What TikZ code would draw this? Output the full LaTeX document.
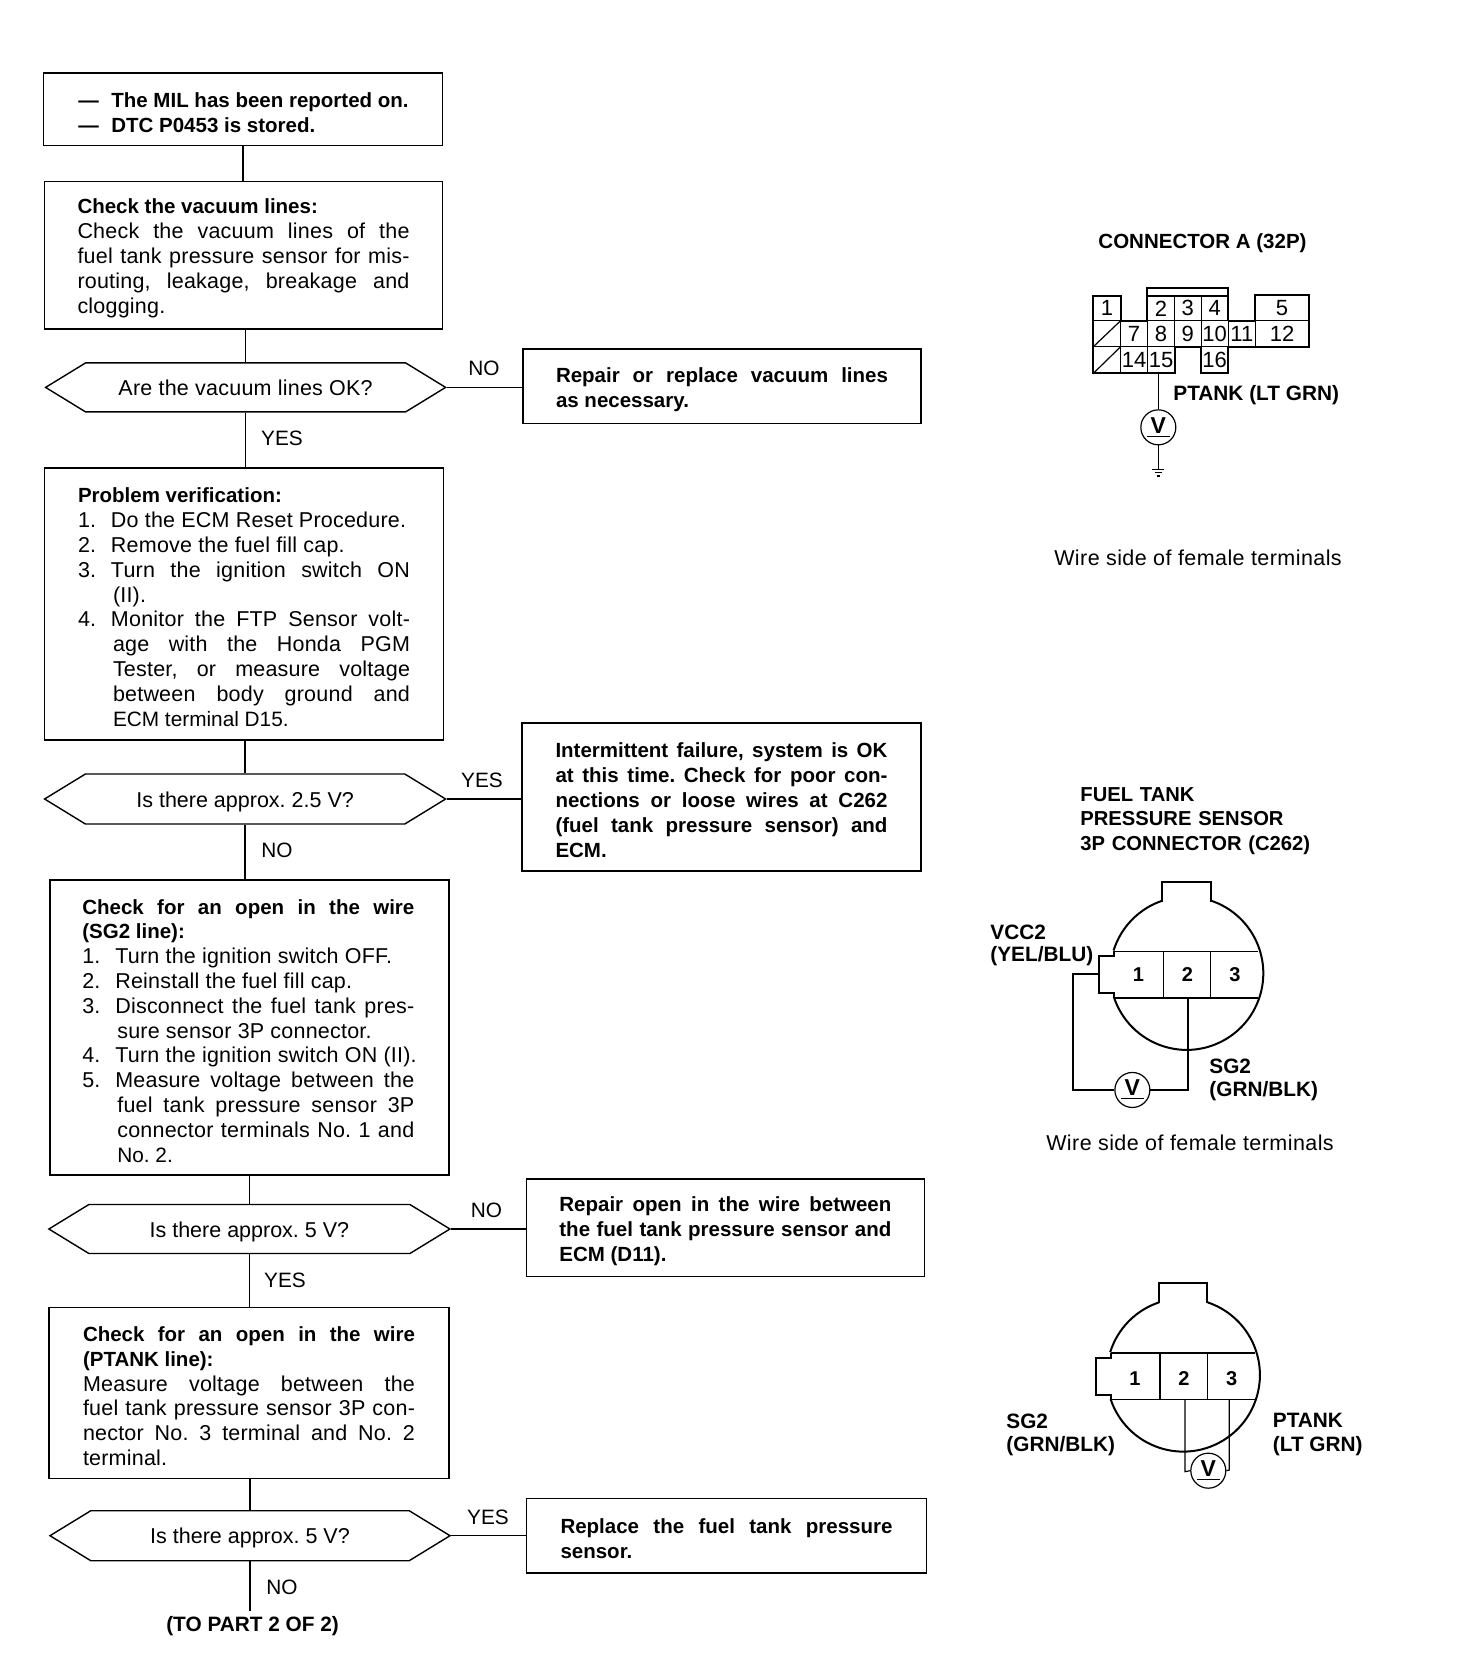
\documentclass[tikz,border=0pt]{standalone}
\usepackage{fontspec}
\setmainfont{Liberation Sans}
\usetikzlibrary{shapes.symbols}
\AtBeginDocument{\frenchspacing}
\newcommand\mainsize{\fontsize{10.4pt}{12.4pt}\selectfont}
\newcommand\bodyfont{\fontsize{10.75pt}{12.4pt}\selectfont\addfontfeature{LetterSpace=1}}
\newcommand\bs{\normalfont\fontsize{10.25pt}{12.4pt}\selectfont\bfseries}
\newcommand\nr{\normalfont\fontsize{10.4pt}{12.4pt}\selectfont}
\newcommand\tb[1]{\vbox{\hsize=166pt\baselineskip=12.4pt\lineskiplimit=-10pt\kern3.2pt #1}}
\newcommand\Lj[1]{\hbox to \hsize{#1}}
\newcommand\Ll[1]{\hbox{#1}}
\newcommand\Nl[2]{\hbox{\hbox to 16.5pt{#1\hss}#2}}
\newcommand\Nj[2]{\hbox to \hsize{\hbox to 16.5pt{#1\hss}#2}}
\newcommand\Cl[1]{\hbox{\kern17.5pt #1}}
\newcommand\Cj[1]{\hbox to \hsize{\kern17.5pt #1}}
\newcommand\dt[1]{\vbox{\kern2.5pt\hbox{#1}}}
\newcommand\cellbox[6]{\node[cellnode,minimum width={(#4-#2)*0.16667pt},minimum height={(#5-#3)*0.16667pt}] (#1) at ({(#2+#4)/2},{(#3+#5)/2}) {#6};}
\tikzset{
  boxsize/.style 2 args={minimum width=#1*0.5pt,minimum height=#2*0.5pt},
  flowbox/.style={draw,line width=0.7pt,inner sep=0pt,font=\bodyfont},
  decision/.style={draw,line width=0.7pt,shape=signal,signal to=west and east,signal pointer angle=63,inner sep=0pt,font=\fontsize{10.75pt}{12.4pt}\selectfont},
  flowline/.style={line width=0.7pt},
  lab/.style={inner sep=0pt,font=\mainsize},
  wirelab/.style={inner sep=0pt,font=\fontsize{10.75pt}{12.4pt}\selectfont\addfontfeature{LetterSpace=2}},
  blab/.style={inner sep=0pt,font=\mainsize\bfseries},
  blabl/.style={inner sep=0pt,anchor=west,font=\mainsize\bfseries,align=left},
  cellnode/.style={draw,line width=0.4pt,inner sep=0pt,font=\fontsize{11pt}{12pt}\selectfont},
  thickline/.style={line width=1pt},
  thinline/.style={line width=0.6pt},
  voltm/.style={draw,circle,line width=0.6pt,minimum size=17.5pt,inner sep=0pt,font=\fontsize{11.5pt}{12pt}\selectfont\bfseries},
  numb/.style={inner sep=0pt,font=\fontsize{10pt}{12pt}\selectfont\bfseries},
  pics/sensorbody/.style={code={
    \draw[thickline] (-73,-215) -- (-73,-275) -- (72,-275) -- (72,-215);
    \draw[thickline] (0,0) ++(71.5:38.3pt) arc[start angle=71.5,end angle=-161.7,radius=38.3pt];
    \draw[thickline] (0,0) ++(162.7:38.3pt) arc[start angle=162.7,end angle=108.5,radius=38.3pt];
    \draw[thickline] (-218,-66) -- (-218,-52) -- (-262,-52) -- (-262,60) -- (-218,60) -- (-218,74);
    \draw[thinline] (-218,-66) -- (215,-66);
    \draw[thinline] (-218,74) -- (215,74);
    \draw[thinline] (-70,-66) -- (-70,74);
    \draw[thinline] (72,-66) -- (72,74);
  }}
}
\begin{document}
\begin{tikzpicture}[x=0.5pt,y=-0.5pt]
\fill[white] (0,0) rectangle (1472,1664);
\useasboundingbox (0,0) rectangle (1472,1664);
% ---------- flow boxes ----------
\node[flowbox,boxsize={399}{72.5}] (b1) at (243,109.2) {\tb{
  \Nl{\kern0.5pt\bs ---}{\kern0.5pt\bs The MIL has been reported on.}
  \Nl{\kern0.5pt\bs ---}{\kern0.5pt\bs DTC P0453 is stored.}}};
\node[flowbox,boxsize={398}{147.5}] (b2) at (243.5,255.2) {\tb{
  \Ll{\bs Check the vacuum lines:}
  \Lj{Check the vacuum lines of the}
  \Lj{fuel tank pressure sensor for mis-}
  \Lj{routing, leakage, breakage and}
  \Ll{clogging.}}};
\node[decision,boxsize={400}{49}] (d1) at (245.6,387.4) {\addfontfeature{LetterSpace=1.1}Are the vacuum lines OK?};
\node[flowbox,boxsize={398}{74.5}] (r1) at (722,386.2) {\tb{
  \Lj{\bs Repair or replace vacuum lines}
  \Ll{\bs as necessary.}}};
\node[flowbox,boxsize={399}{272}] (b3) at (244,604) {\tb{
  \Ll{\bs Problem verification:}
  \Nl{1.}{Do the ECM Reset Procedure.}
  \Nl{2.}{Remove the fuel fill cap.}
  \Nj{3.}{Turn the ignition switch ON}
  \Cl{(II).}
  \Nj{4.}{Monitor the FTP Sensor volt-}
  \Cj{age with the Honda PGM}
  \Cj{Tester, or measure voltage}
  \Cj{between body ground and}
  \Cl{\nr ECM terminal D15.}}};
\node[decision,boxsize={401}{50}] (d2) at (245.1,799) {\dt{Is there approx. 2.5 V?}};
\node[flowbox,boxsize={399}{148}] (r2) at (721.5,797) {\tb{
  \Lj{\bs Intermittent failure, system is OK}
  \Lj{\bs at this time. Check for poor con-}
  \Lj{\bs nections or loose wires at C262}
  \Lj{\bs (fuel tank pressure sensor) and}
  \Ll{\bs ECM.}}};
\node[flowbox,boxsize={399}{295}] (b4) at (249.5,1027.5) {\tb{
  \Lj{\bs Check for an open in the wire}
  \Ll{\bs (SG2 line):}
  \Nl{1.}{Turn the ignition switch OFF.}
  \Nl{2.}{Reinstall the fuel fill cap.}
  \Nj{3.}{Disconnect the fuel tank pres-}
  \Cl{sure sensor 3P connector.}
  \Nl{4.}{Turn the ignition switch ON (II).}
  \Nj{5.}{Measure voltage between the}
  \Cj{fuel tank pressure sensor 3P}
  \Cj{connector terminals No. 1 and}
  \Cl{\nr No. 2.}}};
\node[decision,boxsize={401}{49}] (d3) at (249.4,1229) {\dt{Is there approx. 5 V?}};
\node[flowbox,boxsize={398}{97.7}] (r3) at (725.4,1227.8) {\tb{
  \Lj{\bs Repair open in the wire between}
  \Lj{\bs the fuel tank pressure sensor and}
  \Ll{\bs ECM (D11).}}};
\node[flowbox,boxsize={400}{171}] (b5) at (249,1393) {\tb{
  \Lj{\bs Check for an open in the wire}
  \Ll{\bs (PTANK line):}
  \Lj{Measure voltage between the}
  \Lj{fuel tank pressure sensor 3P con-}
  \Lj{nector No. 3 terminal and No. 2}
  \Ll{terminal.}}};
\node[decision,boxsize={400}{50}] (d4) at (250,1535.7) {\dt{Is there approx. 5 V?}};
\node[flowbox,boxsize={400}{74.3}] (r4) at (726.5,1535.7) {\tb{
  \Lj{\bs Replace the fuel tank pressure}
  \Ll{\bs sensor.}}};
\coordinate (end) at (250,1611);
\node[blab] (topart) at (252.6,1626) {(TO PART 2 OF 2)};
% ---------- connectors ----------
\draw[flowline] (b1.south) -- (b1.south |- b2.north);
\draw[flowline] (d1.north |- b2.south) -- (d1.north);
\draw[flowline] (d1.south) -- (d1.south |- b3.north);
\draw[flowline] (d2.north |- b3.south) -- (d2.north);
\draw[flowline] (d2.south) -- (d2.south |- b4.north);
\draw[flowline] (d3.north |- b4.south) -- (d3.north);
\draw[flowline] (d3.south) -- (d3.south |- b5.north);
\draw[flowline] (d4.north |- b5.south) -- (d4.north);
\draw[flowline] (d4.south) -- (end);
\draw[flowline] (d1.east) -- (d1.east -| r1.west);
\draw[flowline] (d2.east) -- (d2.east -| r2.west);
\draw[flowline] (d3.east) -- (d3.east -| r3.west);
\draw[flowline] (d4.east) -- (d4.east -| r4.west);
\node[lab] (l1) at (484,368) {NO};
\node[lab] (l2) at (282,438) {YES};
\node[lab] (l3) at (482,780) {YES};
\node[lab] (l4) at (277,850) {NO};
\node[lab] (l5) at (486.5,1210) {NO};
\node[lab] (l6) at (285,1280) {YES};
\node[lab] (l7) at (488,1517.6) {YES};
\node[lab] (l8) at (282,1587) {NO};
% ---------- connector A ----------
\node[blab,font=\fontsize{10.25pt}{12.4pt}\selectfont\bfseries] (ca) at (1202.5,243) {CONNECTOR A (32P)};
\begin{scope}[shift={(1030,220)},x=0.16667pt,y=-0.16667pt]
  \draw[thickline] (352,302) -- (352,203) -- (595,203) -- (595,302);
  \draw[thinline] (352,228) -- (595,228);
  \cellbox{c1}{190}{228}{272}{302}{1}
  \cellbox{c2}{352}{228}{434}{302}{2}
  \cellbox{c3}{434}{228}{513}{302}{3}
  \cellbox{c4}{513}{228}{595}{302}{4}
  \cellbox{c5}{676}{225}{836}{302}{5}
  \cellbox{c6}{190}{302}{272}{380}{}
  \cellbox{c7}{272}{302}{352}{380}{7}
  \cellbox{c8}{352}{302}{434}{380}{8}
  \cellbox{c9}{434}{302}{513}{380}{9}
  \cellbox{c10}{513}{302}{595}{380}{10}
  \cellbox{c11}{595}{302}{676}{380}{11}
  \cellbox{c12}{676}{302}{836}{380}{12}
  \cellbox{c13}{190}{380}{272}{460}{}
  \cellbox{c14}{272}{380}{352}{460}{14}
  \cellbox{c15}{352}{380}{434}{460}{15}
  \cellbox{c16}{513}{380}{595}{460}{16}
  \draw[thinline] (c6.south west) -- (c6.north east);
  \draw[thinline] (c13.south west) -- (c13.north east);
  \draw[thickline] (190,302) -- (190,228) -- (272,228) -- (272,302) -- (352,302);
  \draw[thickline] (595,302) -- (676,302) -- (676,225) -- (836,225) -- (836,380) -- (595,380) -- (595,460) -- (513,460) -- (513,380) -- (434,380) -- (434,460) -- (190,460) -- (190,302);
  \node[voltm] (v1) at (385,622) {\underline{\,V\,}};
  \coordinate (g1) at (385,748);
  \draw[thinline] (v1.north |- c15.south) -- (v1.north);
  \draw[thinline] (v1.south) -- (g1);
  \draw[thinline] (367,748) -- (403,748);
  \draw[thinline] (374,758) -- (396,758);
  \draw[thinline] (380,768) -- (390,768);
\end{scope}
\node[blabl] (pt) at (1173,395) {PTANK (LT GRN)};
\node[wirelab] (ws1) at (1198,558) {Wire side of female terminals};
% ---------- C262 upper ----------
\node[blabl,font=\fontsize{10.1pt}{12.4pt}\selectfont\bfseries,text width=140pt] (ft) at (1080,821) {\baselineskip=12.2pt FUEL TANK\\PRESSURE SENSOR\\3P CONNECTOR (C262)};
\begin{scope}[shift={(1186.7,973.3)},x=0.16667pt,y=-0.16667pt]
  \pic {sensorbody};
  \node[numb] (n1) at (-145,5) {1};
  \node[numb] (n2) at (2,5) {2};
  \node[numb] (n3) at (145,5) {3};
  \node[voltm] (v2) at (-163,350) {\underline{\,V\,}};
  \coordinate (t1) at (-262,2);
  \coordinate (t2) at (5,74);
  \draw[thickline] (t1) -- (-342,2) -- (-342,350) -- (v2.west);
  \draw[thickline] (v2.east) -- (5,350) -- (t2);
\end{scope}
\node[blabl] (vcc) at (990,932) {VCC2};
\node[blabl] (yel) at (990,956) {(YEL/BLU)};
\node[blabl] (sg) at (1209,1066.6) {SG2};
\node[blabl] (grn) at (1209,1091) {(GRN/BLK)};
\node[wirelab] (ws2) at (1190,1143) {Wire side of female terminals};
% ---------- C262 lower ----------
\begin{scope}[shift={(1183.3,1375)},x=0.16667pt,y=-0.16667pt]
  \pic {sensorbody};
  \node[numb] (m1) at (-145,10) {1};
  \node[numb] (m2) at (2,10) {2};
  \node[numb] (m3) at (145,10) {3};
  \node[voltm] (v3) at (75,287) {\underline{\,V\,}};
  \coordinate (t3) at (5,74);
  \coordinate (t4) at (138,74);
  \draw[thinline] (t3) -- (5,290) -- (v3.west);
  \draw[thinline] (t4) -- (138,285) -- (v3.east);
\end{scope}
\node[blabl] (sg3) at (1006,1421) {SG2};
\node[blabl] (grn3) at (1006,1446.5) {(GRN/BLK)};
\node[blabl] (pt3) at (1272.5,1420) {PTANK};
\node[blabl] (lt3) at (1272.5,1446.5) {(LT GRN)};
\end{tikzpicture}
\end{document}
